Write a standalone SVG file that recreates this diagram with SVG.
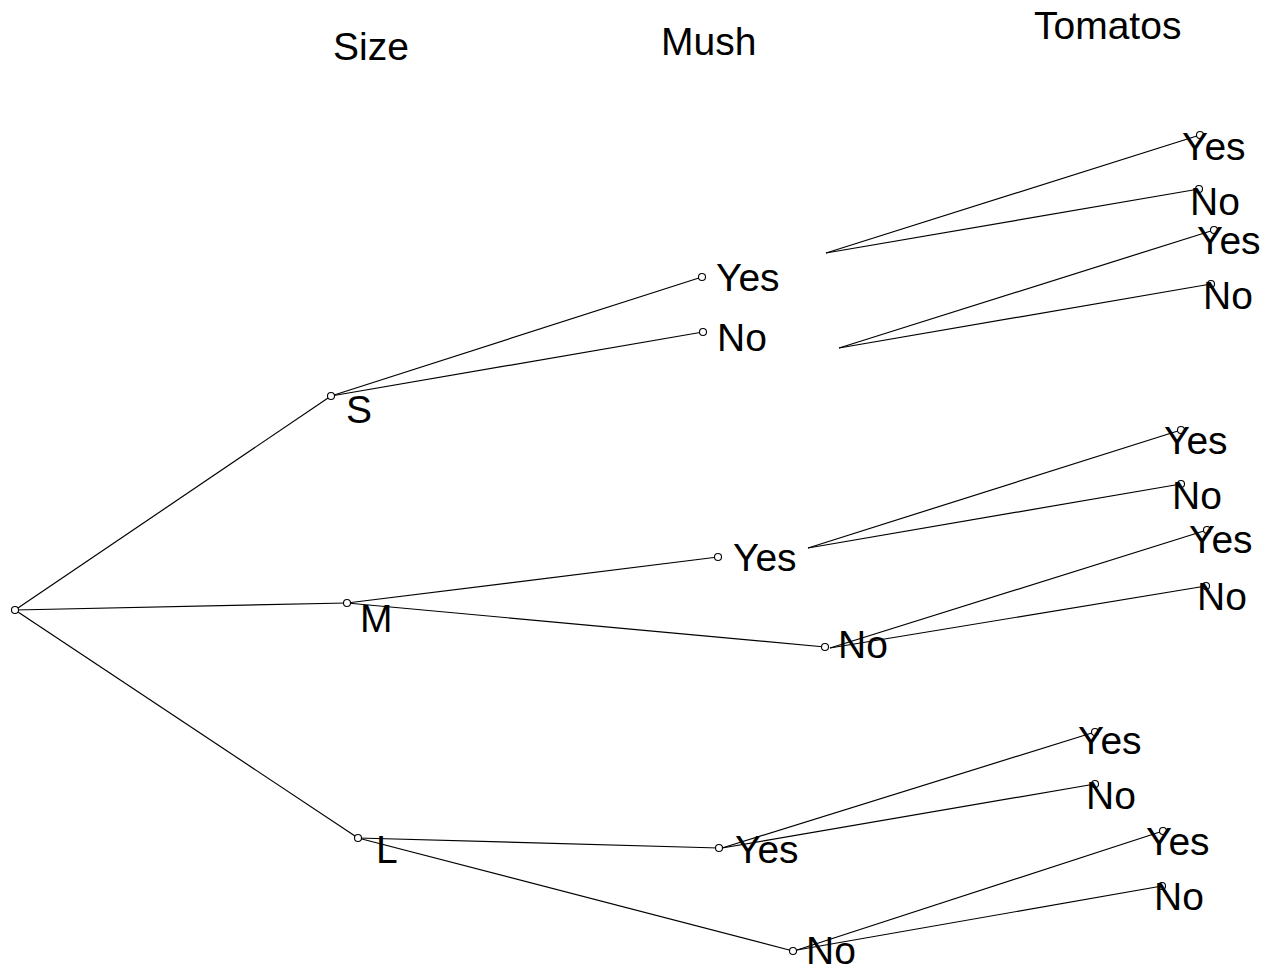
<svg xmlns="http://www.w3.org/2000/svg" width="1270" height="968" viewBox="0 0 1270 968">
  <style>
    .edge { stroke: #000; stroke-width: 1.2; fill: none; }
    .dot { fill: #fff; stroke: #000; stroke-width: 1.1; }
    .lbl { font-family: "Liberation Sans", Arial, sans-serif; font-size: 39px; fill: #000; }
  </style>
  <rect width="1270" height="968" fill="#fff"/>

  <!-- column headings -->
  <g id="headings">
    <text class="lbl" x="333" y="60">Size</text>
    <text class="lbl" x="661" y="55">Mush</text>
    <text class="lbl" x="1034" y="39">Tomatos</text>
  </g>

  <!-- connectors -->
  <g id="connectors">
    <!-- root to size -->
    <line class="edge" x1="15" y1="610" x2="331" y2="396"/>
    <line class="edge" x1="15" y1="610" x2="347" y2="603"/>
    <line class="edge" x1="15" y1="610" x2="358" y2="838"/>
    <!-- size to mush -->
    <line class="edge" x1="331" y1="396" x2="702" y2="277"/>
    <line class="edge" x1="331" y1="396" x2="703" y2="332"/>
    <line class="edge" x1="347" y1="603" x2="718" y2="557"/>
    <line class="edge" x1="347" y1="603" x2="825" y2="647"/>
    <line class="edge" x1="358" y1="838" x2="719" y2="848"/>
    <line class="edge" x1="358" y1="838" x2="793" y2="951"/>
    <!-- mush to tomatos -->
    <line class="edge" x1="826" y1="253" x2="1200" y2="135"/>
    <line class="edge" x1="826" y1="253" x2="1199" y2="189"/>
    <line class="edge" x1="839" y1="348" x2="1214" y2="230"/>
    <line class="edge" x1="839" y1="348" x2="1211" y2="284"/>
    <line class="edge" x1="808" y1="548" x2="1181" y2="430"/>
    <line class="edge" x1="808" y1="548" x2="1181" y2="484"/>
    <line class="edge" x1="830" y1="648" x2="1207" y2="530"/>
    <line class="edge" x1="830" y1="648" x2="1206" y2="586"/>
    <line class="edge" x1="722" y1="848" x2="1095" y2="732"/>
    <line class="edge" x1="722" y1="848" x2="1095" y2="784"/>
    <line class="edge" x1="797" y1="950" x2="1163" y2="831"/>
    <line class="edge" x1="797" y1="950" x2="1162" y2="886"/>
  </g>

  <!-- root -->
  <g id="root"><circle class="dot" cx="15" cy="610" r="3.5"/></g>

  <!-- size -->
  <g id="size-s"><circle class="dot" cx="331" cy="396" r="3.5"/><text class="lbl" x="346" y="423">S</text></g>
  <g id="size-m"><circle class="dot" cx="347" cy="603" r="3.5"/><text class="lbl" x="360" y="632">M</text></g>
  <g id="size-l"><circle class="dot" cx="358" cy="838" r="3.5"/><text class="lbl" x="376" y="863">L</text></g>

  <!-- mush -->
  <g id="s-mush-yes"><circle class="dot" cx="702" cy="277" r="3.5"/><text class="lbl" x="716" y="291">Yes</text></g>
  <g id="s-mush-no"><circle class="dot" cx="703" cy="332" r="3.5"/><text class="lbl" x="717" y="351">No</text></g>
  <g id="m-mush-yes"><circle class="dot" cx="718" cy="557" r="3.5"/><text class="lbl" x="733" y="571">Yes</text></g>
  <g id="m-mush-no"><circle class="dot" cx="825" cy="647" r="3.5"/><text class="lbl" x="838" y="658">No</text></g>
  <g id="l-mush-yes"><circle class="dot" cx="719" cy="848" r="3.5"/><text class="lbl" x="735" y="863">Yes</text></g>
  <g id="l-mush-no"><circle class="dot" cx="793" cy="951" r="3.5"/><text class="lbl" x="806" y="964">No</text></g>

  <!-- tomatos -->
  <g id="sy-tom-yes"><circle class="dot" cx="1200" cy="135" r="3.5"/><text class="lbl" x="1182" y="160">Yes</text></g>
  <g id="sy-tom-no"><circle class="dot" cx="1199" cy="189" r="3.5"/><text class="lbl" x="1190" y="215">No</text></g>
  <g id="sn-tom-yes"><circle class="dot" cx="1214" cy="230" r="3.5"/><text class="lbl" x="1197" y="254">Yes</text></g>
  <g id="sn-tom-no"><circle class="dot" cx="1211" cy="284" r="3.5"/><text class="lbl" x="1203" y="309">No</text></g>
  <g id="my-tom-yes"><circle class="dot" cx="1181" cy="430" r="3.5"/><text class="lbl" x="1164" y="454">Yes</text></g>
  <g id="my-tom-no"><circle class="dot" cx="1181" cy="484" r="3.5"/><text class="lbl" x="1172" y="509">No</text></g>
  <g id="mn-tom-yes"><circle class="dot" cx="1207" cy="530" r="3.5"/><text class="lbl" x="1189" y="553">Yes</text></g>
  <g id="mn-tom-no"><circle class="dot" cx="1206" cy="586" r="3.5"/><text class="lbl" x="1197" y="610">No</text></g>
  <g id="ly-tom-yes"><circle class="dot" cx="1095" cy="732" r="3.5"/><text class="lbl" x="1078" y="754">Yes</text></g>
  <g id="ly-tom-no"><circle class="dot" cx="1095" cy="784" r="3.5"/><text class="lbl" x="1086" y="809">No</text></g>
  <g id="ln-tom-yes"><circle class="dot" cx="1163" cy="831" r="3.5"/><text class="lbl" x="1146" y="855">Yes</text></g>
  <g id="ln-tom-no"><circle class="dot" cx="1162" cy="886" r="3.5"/><text class="lbl" x="1154" y="910">No</text></g>
</svg>
